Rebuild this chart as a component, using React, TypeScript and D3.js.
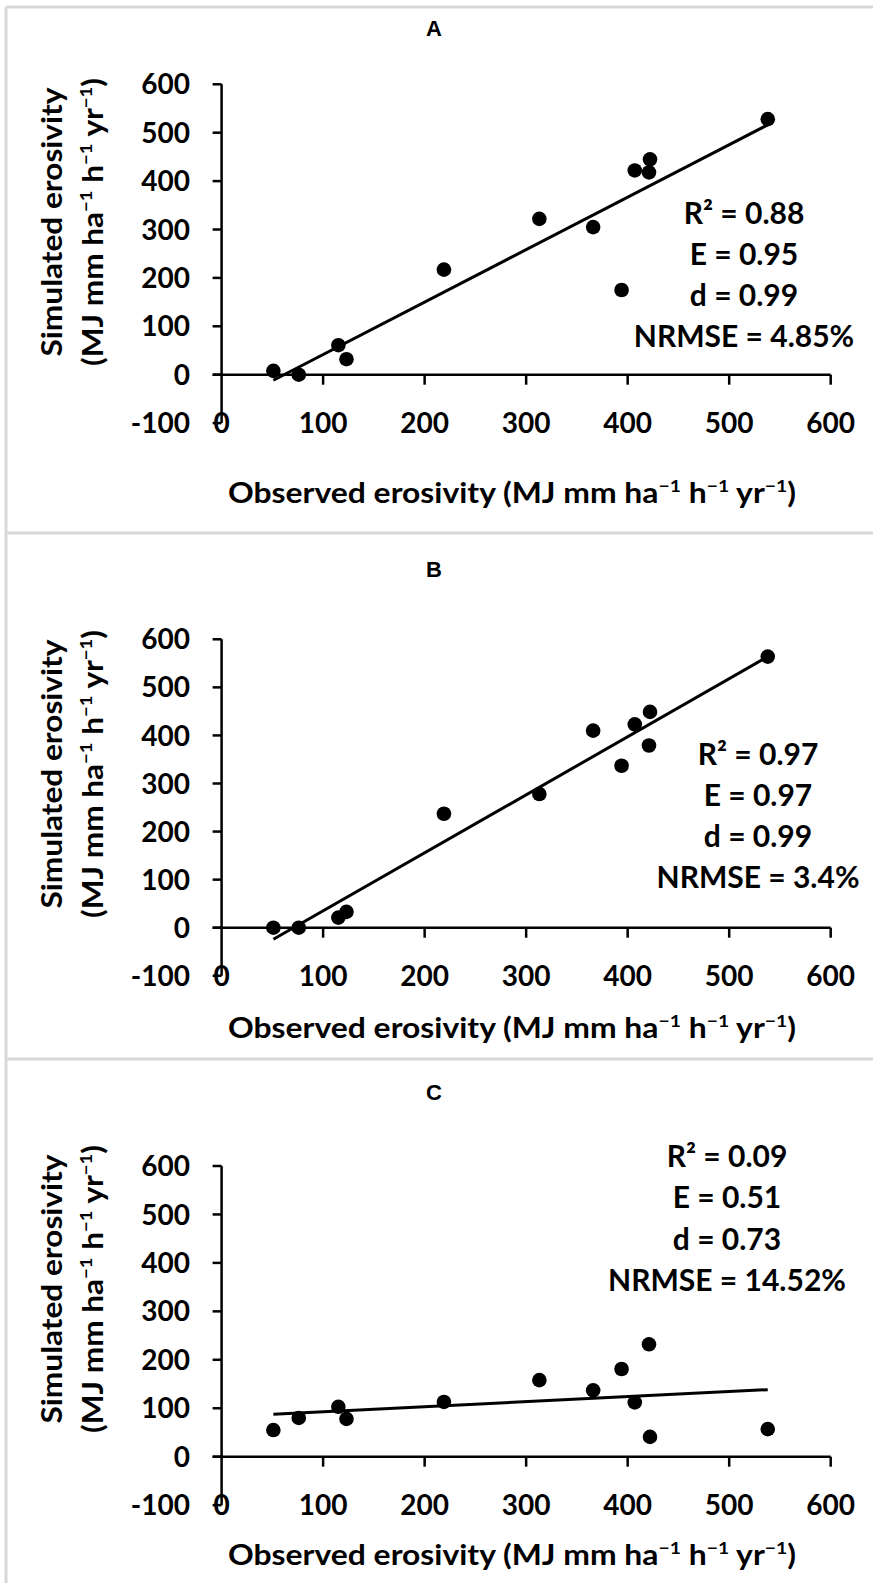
import React, { useEffect, useRef } from "react"
import * as d3 from "d3"

// observed erosivity, same stations in every panel
const observed = [51, 76, 115, 123, 219, 313, 366, 394, 407, 421, 422, 538]
const simulatedA = [8, 0, 61, 32, 217, 322, 305, 175, 422, 418, 445, 528]
const simulatedB = [0, 0, 21, 33, 237, 278, 410, 337, 423, 379, 449, 564]
const simulatedC = [55, 80, 103, 78, 113, 158, 137, 181, 112, 232, 41, 57]

const statsA = ["R² = 0.88", "E = 0.95", "d = 0.99", "NRMSE = 4.85%"]
const statsB = ["R² = 0.97", "E = 0.97", "d = 0.99", "NRMSE = 3.4%"]
const statsC = ["R² = 0.09", "E = 0.51", "d = 0.73", "NRMSE = 14.52%"]

const xTicks = [0, 100, 200, 300, 400, 500, 600]
const yTicks = [-100, 0, 100, 200, 300, 400, 500, 600]

const W = 873
const H = 1583
const FONT = "Lato, 'Open Sans', sans-serif"

type Part = [string, boolean]
const unitParts: Part[] = [
    ["ha", false], ["−1", true], [" h", false], ["−1", true], [" yr", false], ["−1", true], [")", false]
]

// layout of each panel (pixel positions)
const panels = [
    { label: "A", sim: simulatedA, stats: statsA, titleY: 36, yTop: 84.3, yZero: 374.7, xTitleY: 503, yTitleC: 222, statsX: 744, statsY: 223.5 },
    { label: "B", sim: simulatedB, stats: statsB, titleY: 577, yTop: 639.3, yZero: 927.7, xTitleY: 1038, yTitleC: 774, statsX: 758, statsY: 764.5 },
    { label: "C", sim: simulatedC, stats: statsC, titleY: 1100, yTop: 1166, yZero: 1456.7, xTitleY: 1565, yTitleC: 1289, statsX: 727, statsY: 1167 },
]

function addParts(text: any, parts: Part[]) {
    let raised = false
    parts.forEach(([s, sup]) => {
        const t = text.append("tspan").text(s)
        if (sup && !raised) {
            t.attr("font-size", 17).attr("dy", -11)
            raised = true
        } else if (!sup && raised) {
            t.attr("dy", 11)
            raised = false
        } else if (sup) {
            t.attr("font-size", 17)
        }
    })
}

function linearFit(xs: number[], ys: number[]) {
    const mx = d3.mean(xs) as number
    const my = d3.mean(ys) as number
    const sxy = d3.sum(xs, (x, i) => (x - mx) * (ys[i] - my))
    const sxx = d3.sum(xs, x => (x - mx) * (x - mx))
    const slope = sxy / sxx
    return { slope, intercept: my - slope * mx }
}

export default function App() {
    const ref = useRef<SVGSVGElement>(null)

    useEffect(() => {
        const svg = d3.select(ref.current)
        svg.selectAll("*").remove()

        svg.append("rect").attr("width", W).attr("height", H).attr("fill", "#fff")

        // panel frames
        const frame = "#d8d8d8"
        svg.append("line").attr("x1", 6).attr("x2", W).attr("y1", 7).attr("y2", 7).attr("stroke", frame).attr("stroke-width", 3)
        svg.append("line").attr("x1", 6).attr("x2", 6).attr("y1", 7).attr("y2", H).attr("stroke", frame).attr("stroke-width", 3)
        ;[533, 1059].forEach(y => {
            svg.append("line").attr("x1", 6).attr("x2", W).attr("y1", y).attr("y2", y).attr("stroke", frame).attr("stroke-width", 3)
        })

        const xScale = d3.scaleLinear().domain([0, 600]).range([221.6, 830.7])

        panels.forEach(p => {
            const step = (p.yZero - p.yTop) / 6
            const yScale = d3.scaleLinear().domain([-100, 600]).range([p.yZero + step, p.yTop])
            const g = svg.append("g")

            g.append("text")
                .attr("x", 434).attr("y", p.titleY)
                .attr("text-anchor", "middle")
                .attr("font-family", "'Liberation Sans', Arial, sans-serif")
                .attr("font-weight", "bold")
                .attr("font-size", 22)
                .text(p.label)

            // y axis
            g.append("line")
                .attr("x1", xScale(0)).attr("x2", xScale(0))
                .attr("y1", yScale(600)).attr("y2", yScale(-100))
                .attr("stroke", "#000").attr("stroke-width", 2.5)
            g.selectAll(".ytick").data(yTicks).enter().append("line")
                .attr("x1", xScale(0) - 9).attr("x2", xScale(0))
                .attr("y1", d => yScale(d)).attr("y2", d => yScale(d))
                .attr("stroke", "#000").attr("stroke-width", 2.5)
            g.selectAll(".ylab").data(yTicks).enter().append("text")
                .attr("x", 190).attr("y", d => yScale(d))
                .attr("dy", "0.36em")
                .attr("text-anchor", "end")
                .attr("font-family", FONT).attr("font-weight", "bold").attr("font-size", 28)
                .text(d => d)

            // x axis at y = 0
            g.append("line")
                .attr("x1", xScale(0) - 9).attr("x2", xScale(600))
                .attr("y1", yScale(0)).attr("y2", yScale(0))
                .attr("stroke", "#000").attr("stroke-width", 2.5)
            g.selectAll(".xtick").data(xTicks.slice(1)).enter().append("line")
                .attr("x1", d => xScale(d)).attr("x2", d => xScale(d))
                .attr("y1", yScale(0)).attr("y2", yScale(0) + 10)
                .attr("stroke", "#000").attr("stroke-width", 2.5)
            g.selectAll(".xlab").data(xTicks).enter().append("text")
                .attr("x", d => xScale(d)).attr("y", yScale(-100))
                .attr("dy", "0.36em")
                .attr("text-anchor", "middle")
                .attr("font-family", FONT).attr("font-weight", "bold").attr("font-size", 28)
                .text(d => d)

            // trendline
            const fit = linearFit(observed, p.sim)
            const xr = d3.extent(observed) as [number, number]
            g.append("line")
                .attr("x1", xScale(xr[0])).attr("x2", xScale(xr[1]))
                .attr("y1", yScale(fit.intercept + fit.slope * xr[0]))
                .attr("y2", yScale(fit.intercept + fit.slope * xr[1]))
                .attr("stroke", "#000").attr("stroke-width", 3)

            g.selectAll("circle").data(observed).enter().append("circle")
                .attr("cx", d => xScale(d))
                .attr("cy", (d, i) => yScale(p.sim[i]))
                .attr("r", 7.3)
                .attr("fill", "#000")

            // stats
            g.selectAll(".stat").data(p.stats).enter().append("text")
                .attr("x", p.statsX).attr("y", (d, i) => p.statsY + i * 41.3)
                .attr("text-anchor", "middle")
                .attr("font-family", FONT).attr("font-weight", "bold").attr("font-size", 30)
                .text(d => d)

            // x title
            const xt = g.append("text")
                .attr("x", 512).attr("y", p.xTitleY)
                .attr("text-anchor", "middle")
                .attr("font-family", FONT).attr("font-weight", "bold").attr("font-size", 28)
                .attr("textLength", 568).attr("lengthAdjust", "spacingAndGlyphs")
            addParts(xt, [["Observed erosivity (MJ mm ", false], ...unitParts])

            // y title, two lines
            g.append("text")
                .attr("transform", `translate(62,${p.yTitleC}) rotate(-90)`)
                .attr("text-anchor", "middle")
                .attr("font-family", FONT).attr("font-weight", "bold").attr("font-size", 29)
                .attr("textLength", 269).attr("lengthAdjust", "spacingAndGlyphs")
                .text("Simulated erosivity")
            const yt = g.append("text")
                .attr("transform", `translate(103,${p.yTitleC}) rotate(-90)`)
                .attr("text-anchor", "middle")
                .attr("font-family", FONT).attr("font-weight", "bold").attr("font-size", 29)
                .attr("textLength", 288).attr("lengthAdjust", "spacingAndGlyphs")
            addParts(yt, [["(MJ mm ", false], ...unitParts])
        })
    }, [])

    return <svg ref={ref} width={W} height={H} style={{ position: "absolute", left: 0, top: 0 }} />
}
